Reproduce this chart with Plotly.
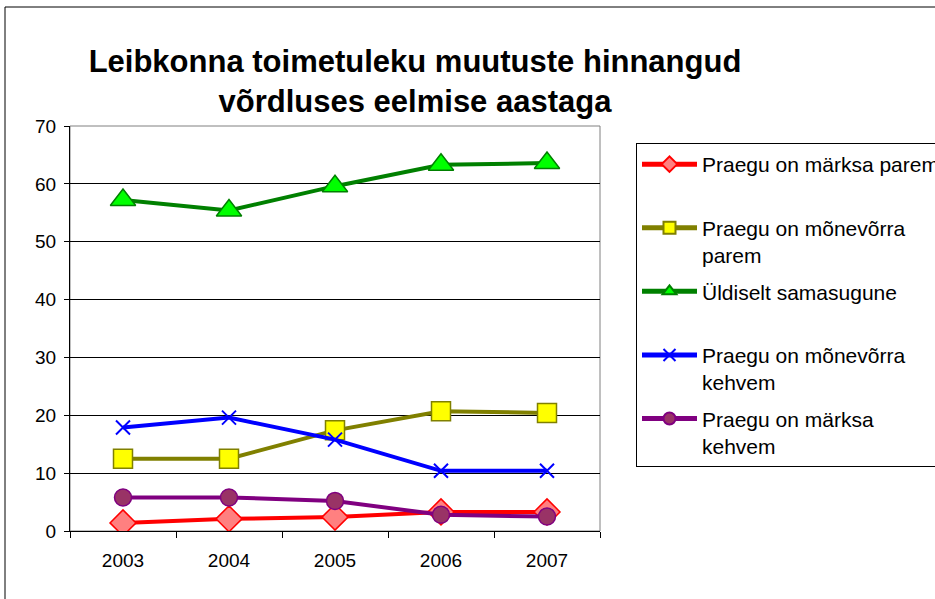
import plotly.graph_objects as go

years = ["2003", "2004", "2005", "2006", "2007"]
s_names = [
    "Praegu on märksa parem",
    "Praegu on mõnevõrra<br>parem",
    "Üldiselt samasugune",
    "Praegu on mõnevõrra<br>kehvem",
    "Praegu on märksa<br>kehvem",
]
markedly_better = [1.4, 2.1, 2.4, 3.3, 3.3]
somewhat_better = [12.5, 12.5, 17.4, 20.7, 20.4]
about_same = [57.2, 55.4, 59.6, 63.3, 63.6]
somewhat_worse = [17.9, 19.6, 15.8, 10.4, 10.4]
markedly_worse = [5.8, 5.8, 5.2, 2.8, 2.5]

FONT = "Liberation Sans, Arial, sans-serif"

styles = [
    dict(line=dict(color="#FF0000", width=4),
         marker=dict(symbol="diamond", size=20, color="#FF8080", line=dict(color="#FF0000", width=1.5))),
    dict(line=dict(color="#808000", width=4),
         marker=dict(symbol="square", size=19, color="#FFFF00", line=dict(color="#808000", width=1.5))),
    dict(line=dict(color="#008000", width=4),
         marker=dict(symbol="triangle-up", size=22, color="#00FF00", line=dict(color="#008000", width=1.5))),
    dict(line=dict(color="#0000FF", width=4),
         marker=dict(symbol="x-thin", size=14, color="#0000FF", line=dict(color="#0000FF", width=2))),
    dict(line=dict(color="#800080", width=4),
         marker=dict(symbol="circle", size=17, color="#993366", line=dict(color="#800080", width=1.5))),
]
series = [markedly_better, somewhat_better, about_same, somewhat_worse, markedly_worse]

fig = go.Figure()
for i, (name, vals, st) in enumerate(zip(s_names, series, styles)):
    label = name if "<br>" in name else name + "<br> "
    fig.add_trace(go.Scatter(x=years, y=vals, mode="lines+markers", name=label,
                             legendgroup=f"g{i}", **st))

# plot area pixel geometry
L, R, T, B = 70, 600, 126, 531
W, H = 935, 599
def px(x):
    return (x - L) / (R - L)
def py(y):
    return (B - y) / (B - T)

fig.update_layout(
    width=W, height=H,
    margin=dict(l=L, r=W - R, t=T, b=H - B, autoexpand=False),
    paper_bgcolor="white", plot_bgcolor="white",
    font=dict(family=FONT, size=20, color="black"),
    title=dict(text="<b>Leibkonna toimetuleku muutuste hinnangud<br>võrdluses eelmise aastaga</b>",
               x=415 / W, xanchor="center", xref="container",
               y=1 - 72 / H, yanchor="top", yref="container",
               font=dict(family=FONT, size=31, color="black")),
    xaxis=dict(type="category", range=[-0.5, 4.5], tickson="boundaries",
               ticks="outside", ticklen=6, tickcolor="black",
               showline=True, linecolor="black", linewidth=1, showgrid=False,
               ticklabelstandoff=12, tickfont=dict(size=19)),
    yaxis=dict(range=[0, 70], dtick=10, ticks="outside", ticklen=5, tickcolor="black",
               showline=True, linecolor="black", linewidth=1,
               showgrid=True, gridcolor="black", gridwidth=1, zeroline=False,
               ticklabelstandoff=4, tickfont=dict(size=19)),
    legend=dict(x=px(636), y=py(143), xanchor="left", yanchor="top",
                bordercolor="black", borderwidth=1, bgcolor="white",
                font=dict(size=21), valign="top", tracegroupgap=6,
                itemsizing="constant", itemwidth=55),
    showlegend=True,
    shapes=[
        dict(type="rect", xref="paper", yref="paper", x0=0, x1=1, y0=0, y1=1,
             line=dict(color="#808080", width=1), layer="below"),
        dict(type="rect", xref="paper", yref="paper", x0=px(5), x1=px(960),
             y0=py(620), y1=py(7), line=dict(color="black", width=1), layer="below"),
    ],
)

fig.write_html("out.html", config={"displayModeBar": False},
               post_script="document.body.style.margin='0';")
